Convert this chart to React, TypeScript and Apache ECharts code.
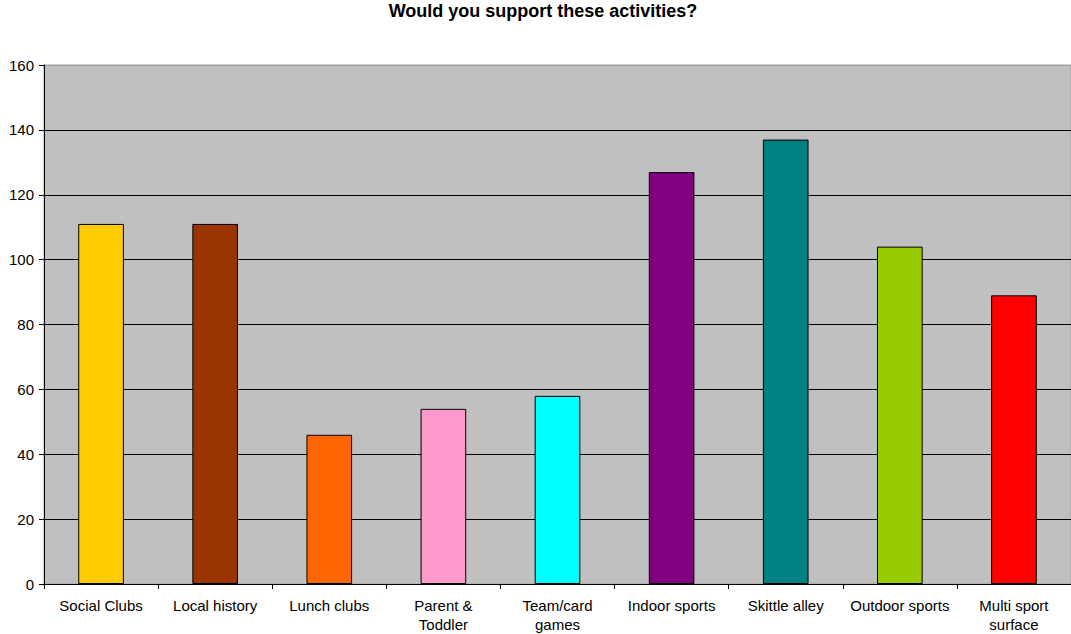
import React, { useEffect, useRef } from "react";
import * as echarts from "echarts";

const categories = [
  "Social Clubs",
  "Local history",
  "Lunch clubs",
  "Parent &\nToddler",
  "Team/card\ngames",
  "Indoor sports",
  "Skittle alley",
  "Outdoor sports",
  "Multi sport\nsurface",
];
const values = [111, 111, 46, 54, 58, 127, 137, 104, 89];
const barColors = [
  "#FFCC00",
  "#993300",
  "#FF6600",
  "#FF99CC",
  "#00FFFF",
  "#800080",
  "#008080",
  "#99CC00",
  "#FF0000",
];
const titleText = "Would you support these activities?";

export default function App() {
  const ref = useRef<HTMLDivElement>(null);
  useEffect(() => {
    document.body.style.margin = "0";
    const chart = echarts.init(ref.current!, null, { renderer: "svg" });
    chart.setOption({
      animation: false,
      backgroundColor: "#FFFFFF",
      title: {
        text: titleText,
        left: 538,
        top: -3,
        textAlign: "center",
        textStyle: {
          fontFamily: "Liberation Sans, Arial, sans-serif",
          fontSize: 18,
          fontWeight: "bold",
          color: "#000",
        },
      },
      grid: {
        left: 44,
        top: 65,
        width: 1028,
        height: 520,
        show: true,
        backgroundColor: "#C0C0C0",
        borderColor: "#A0A0A0",
        borderWidth: 1,
        containLabel: false,
      },
      xAxis: {
        type: "category",
        data: categories,
        boundaryGap: true,
        axisLine: { show: true, lineStyle: { color: "#000", width: 1 } },
        axisTick: { show: true, alignWithLabel: false, length: 5, lineStyle: { color: "#000" } },
        axisLabel: {
          interval: 0,
          color: "#000",
          fontFamily: "Liberation Sans, Arial, sans-serif",
          fontSize: 15,
          lineHeight: 19,
          margin: 12,
        },
      },
      yAxis: {
        type: "value",
        min: 0,
        max: 160,
        interval: 20,
        axisLine: { show: true, lineStyle: { color: "#000", width: 1 } },
        axisTick: { show: true, length: 5, lineStyle: { color: "#000" } },
        axisLabel: {
          color: "#000",
          fontFamily: "Liberation Sans, Arial, sans-serif",
          fontSize: 15,
          margin: 10,
        },
        splitLine: {
          show: true,
          lineStyle: {
            color: ["#000", "#000", "#000", "#000", "#000", "#000", "#000", "#000", "#A0A0A0"],
            width: 1,
          },
        },
      },
      series: [
        {
          type: "bar",
          data: values.map((v, i) => ({
            value: v,
            itemStyle: { color: barColors[i] },
          })),
          barWidth: "40%",
          itemStyle: { borderColor: "#000", borderWidth: 1 },
        },
      ],
    });
    return () => chart.dispose();
  }, []);
  return <div ref={ref} style={{ width: 1071, height: 634 }} />;
}
